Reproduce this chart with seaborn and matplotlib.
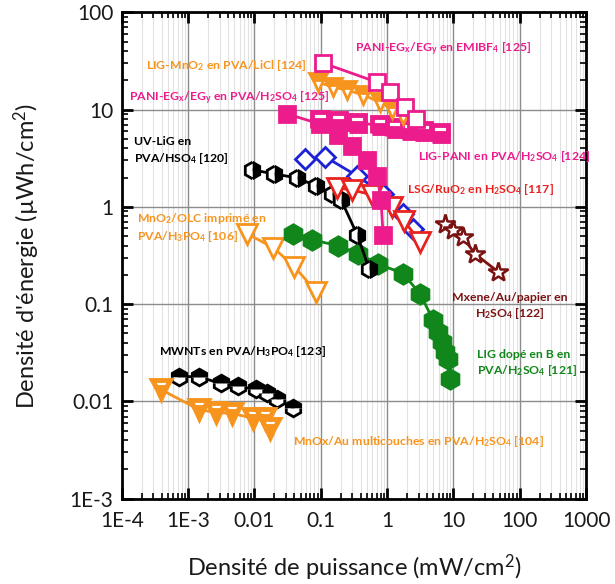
import numpy as np
import pandas as pd
import matplotlib
matplotlib.use("Agg")
import matplotlib.pyplot as plt
import seaborn as sns
from matplotlib.ticker import LogLocator, FixedLocator, FixedFormatter, NullFormatter

sns.set_style("white")
plt.rcParams['font.family'] = ['Lato', 'DejaVu Sans']
plt.rcParams['mathtext.default'] = 'regular'
plt.rcParams['text.color'] = '#1a1a1a'
plt.rcParams['axes.labelcolor'] = '#1a1a1a'
plt.rcParams['xtick.color'] = 'black'
plt.rcParams['ytick.color'] = 'black'

# ---------------- data (power mW/cm2, energy uWh/cm2) ----------------
emibf4_x = [0.109, 0.707, 1.11, 1.87, 2.73]
emibf4_y = [30, 19.1, 15.1, 10.6, 8.0]

ligmno2_x = [0.0917, 0.154, 0.25, 0.436, 0.785, 1.19, 1.74]
ligmno2_y = [19.1, 17.0, 15.9, 14.1, 11.9, 10.1, 8.8]

pani_h2so4_x = [0.0313, 0.098, 0.183, 0.298, 0.50, 0.707, 0.81, 0.87]
pani_h2so4_y = [9.0, 7.1, 5.5, 4.2, 3.03, 2.08, 1.18, 0.516]

ligpani_x = [0.098, 0.183, 0.354, 0.785, 1.32, 2.22, 3.48, 6.27]
ligpani_y = [7.8, 7.6, 7.3, 6.9, 6.46, 6.16, 6.0, 5.74]

blue_x = [0.0585, 0.117, 0.354, 0.87, 1.74, 2.46]
blue_y = [3.1, 3.26, 2.08, 1.36, 0.85, 0.595]

lsg_x = [0.177, 0.298, 0.595, 1.19, 1.80, 3.13]
lsg_y = [1.57, 1.49, 1.33, 1.0, 0.72, 0.44]

uvlig_x = [0.00933, 0.020, 0.0443, 0.0856, 0.149, 0.203, 0.354, 0.536]
uvlig_y = [2.4, 2.18, 1.98, 1.64, 1.36, 1.18, 0.516, 0.231]

olc_x = [0.00785, 0.0193, 0.040, 0.0856]
olc_y = [0.528, 0.38, 0.243, 0.134]

ligb_x = [0.0386, 0.0745, 0.183, 0.366, 0.732, 1.74, 3.13, 4.92, 5.85, 6.72, 7.45, 8.27, 8.86]
ligb_y = [0.528, 0.459, 0.398, 0.33, 0.26, 0.206, 0.128, 0.0693, 0.0522, 0.0412, 0.0326, 0.027, 0.0172]

mxene_x = [7.45, 9.8, 13.9, 21.0, 46.7]
mxene_y = [0.67, 0.58, 0.49, 0.33, 0.216]

mwnt_x = [7.2e-4, 1.44e-3, 3.08e-3, 5.75e-3, 0.0104, 0.0157, 0.0222, 0.0386]
mwnt_y = [0.018, 0.018, 0.0153, 0.0143, 0.0133, 0.0121, 0.0107, 0.0085]

mnox_x = [3.86e-4, 1.44e-3, 2.59e-3, 4.67e-3, 9.66e-3, 0.0142, 0.0174]
mnox_y = [0.0133, 0.00828, 0.0077, 0.00753, 0.0067, 0.0067, 0.00528]

x_ticks = [1e-4, 1e-3, 1e-2, 1e-1, 1, 10, 100, 1000]
x_ticklabels = ['1E-4', '1E-3', '0.01', '0.1', '1', '10', '100', '1000']
y_ticks = [1e-3, 1e-2, 1e-1, 1, 10, 100]
y_ticklabels = ['1E-3', '0.01', '0.1', '1', '10', '100']

MAG = '#EC1C8C'
ORA = '#F7941D'
GRN = '#11861A'
DRED = '#7A1212'
RED = '#E8231F'
BLU = '#1E22D6'
BLK = '#000000'

fig = plt.figure(figsize=(6.15, 5.84), dpi=100)
ax = fig.add_axes([0.198, 0.146, 0.755, 0.833])
ax.set_xscale('log')
ax.set_yscale('log')
ax.set_xlim(1e-4, 1000)
ax.set_ylim(1e-3, 100)

def series(x, y, color, marker, ms, fill='full', mfc=None, mew=2.0, lw=2.0, z=3):
    df = pd.DataFrame({'x': x, 'y': y})
    sns.lineplot(data=df, x='x', y='y', ax=ax, sort=False, color=color,
                 marker=marker, markersize=ms, fillstyle=fill,
                 markerfacecolor=(color if mfc is None else mfc),
                 markerfacecoloralt='white', markeredgecolor=color,
                 markeredgewidth=mew, linewidth=lw, zorder=z)

series(olc_x, olc_y, ORA, 'v', 14, mfc='white')
series(ligb_x, ligb_y, GRN, 'h', 14)
series(uvlig_x, uvlig_y, BLK, 'h', 12, fill='right')
series(mwnt_x, mwnt_y, BLK, 'h', 12, fill='top')
series(mnox_x, mnox_y, ORA, 'v', 13, fill='bottom', mew=3.5)
series(blue_x, blue_y, BLU, 'D', 10, mfc='white')
series(lsg_x, lsg_y, RED, 'v', 14, mfc='white')
series(pani_h2so4_x, pani_h2so4_y, MAG, 's', 11)
series(ligpani_x, ligpani_y, MAG, 's', 11, fill='bottom', mew=3.5)
series(mxene_x, mxene_y, DRED, '*', 15, mfc='white', mew=1.8)
series(ligmno2_x, ligmno2_y, ORA, 'v', 13, fill='top')
series(emibf4_x, emibf4_y, MAG, 's', 11, mfc='white')

# grid
ax.xaxis.set_minor_locator(LogLocator(base=10, subs=np.arange(2, 10)))
ax.yaxis.set_minor_locator(LogLocator(base=10, subs=np.arange(2, 10)))
ax.grid(True, which='major', color='#8c8c8c', linewidth=1.0, zorder=0)
ax.grid(True, which='minor', axis='x', color='#e2e2e2', linewidth=0.8, zorder=0)
ax.set_axisbelow(True)

ax.xaxis.set_major_locator(FixedLocator(x_ticks))
ax.xaxis.set_major_formatter(FixedFormatter(x_ticklabels))
ax.yaxis.set_major_locator(FixedLocator(y_ticks))
ax.yaxis.set_major_formatter(FixedFormatter(y_ticklabels))
ax.xaxis.set_minor_formatter(NullFormatter())
ax.yaxis.set_minor_formatter(NullFormatter())

ax.tick_params(which='major', direction='in', length=8, width=2, bottom=True, left=True,
               top=True, right=True, labelsize=15, pad=6, colors='black',
               labelcolor='#1a1a1a')
ax.tick_params(axis='x', which='major', pad=9)
ax.tick_params(which='minor', direction='in', length=4, width=1.2, bottom=True, left=True,
               top=True, right=True, colors='black')
for s in ax.spines.values():
    s.set_linewidth(2)
    s.set_color('black')

ax.set_xlabel('Densité de puissance (mW/cm$^2$)', fontsize=17, labelpad=15, color='#1a1a1a')
ax.set_ylabel("Densité d'énergie (µWh/cm$^2$)", fontsize=17, labelpad=20, color='#1a1a1a')

def lab(px, py, text, color, ha='left'):
    x = 10 ** ((px - 387) / 66.5)
    y = 10 ** ((205 - py) / 97.5)
    ax.text(x, y, text, color=color, fontsize=8.8, fontweight='bold', ha=ha, va='center',
            linespacing=1.3, zorder=10)

lab(145, 63, 'LIG-MnO$_2$ en PVA/LiCl [124]', ORA)
lab(128, 96, 'PANI-EG$_x$/EG$_y$ en PVA/H$_2$SO$_4$ [125]', MAG)
lab(133, 149, 'UV-LiG en\nPVA/HSO$_4$ [120]', BLK)
lab(355, 47, 'PANI-EG$_x$/EG$_y$ en EMIBF$_4$ [125]', MAG)
lab(418, 155, 'LIG-PANI en PVA/H$_2$SO$_4$ [124]', MAG)
lab(407, 188, 'LSG/RuO$_2$ en H$_2$SO$_4$ [117]', RED)
lab(136, 226, 'MnO$_2$/OLC imprimé en\nPVA/H$_3$PO$_4$ [106]', ORA)
lab(510, 305, 'Mxene/Au/papier en\nH$_2$SO$_4$ [122]', DRED, ha='center')
lab(477, 362, 'LIG dopé en B en\nPVA/H$_2$SO$_4$ [121]', GRN)
lab(158, 350, 'MWNTs en PVA/H$_3$PO$_4$ [123]', BLK)
lab(293, 440, 'MnOx/Au multicouches en PVA/H$_2$SO$_4$ [104]', ORA)

fig.savefig('out.png', dpi=100)
